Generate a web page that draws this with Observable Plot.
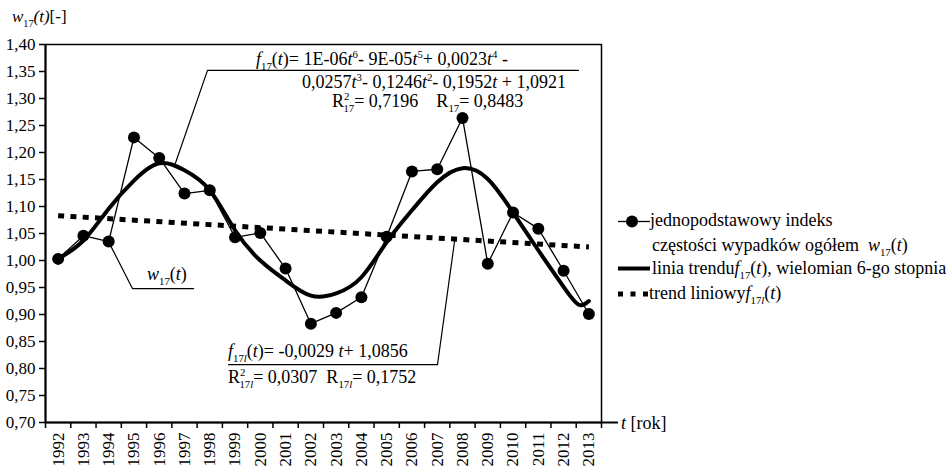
<!DOCTYPE html>
<html>
<head>
<meta charset="utf-8">
<script src="https://cdn.jsdelivr.net/npm/d3@7"></script>
<script src="https://cdn.jsdelivr.net/npm/@observablehq/plot@0.6"></script>
<style>
  html, body { margin: 0; padding: 0; background: #fff; }
  svg { display: block; }
</style>
</head>
<body>
<div id="chart"></div>
<script>
// ---- data ----
const years = [1992, 1993, 1994, 1995, 1996, 1997, 1998, 1999, 2000, 2001, 2002,
               2003, 2004, 2005, 2006, 2007, 2008, 2009, 2010, 2011, 2012, 2013];
const w17 = [1.003, 1.046, 1.035, 1.228, 1.190, 1.124, 1.130, 1.043, 1.051, 0.985, 0.883,
             0.903, 0.932, 1.044, 1.165, 1.169, 1.264, 0.994, 1.089, 1.059, 0.981, 0.901];
// polynomial (6th degree) trend line
const polyYears = [1992, 1993, 1994, 1995, 1996, 1997, 1998, 1999, 2000, 2001, 2002,
                   2003, 2004, 2005, 2006, 2007, 2008, 2009, 2010, 2011, 2012, 2012.6, 2013];
const polyValues = [1.003, 1.037, 1.096, 1.148, 1.180, 1.167, 1.130, 1.056, 1.000, 0.963, 0.935,
                    0.939, 0.969, 1.034, 1.093, 1.145, 1.171, 1.151, 1.089, 1.019, 0.951, 0.918, 0.925];
// linear trend endpoints
const linYears = [1992, 2013];
const linValues = [1.083, 1.025];
// y ticks
const yTicks = [0.70, 0.75, 0.80, 0.85, 0.90, 0.95, 1.00, 1.05, 1.10, 1.15, 1.20, 1.25, 1.30, 1.35, 1.40];
// leader lines of annotations (data coordinates)
const leadPolyX = [1996.64, 1997.91, 2012.59];
const leadPolyY = [1.180, 1.352, 1.352];
const leadWX = [1994.07, 1994.94, 1997.36];
const leadWY = [1.028, 0.948, 0.948];
const leadLinX = [2007.69, 2007.01, 1998.74];
const leadLinY = [1.037, 0.807, 0.807];

// ---- build tables ----
const pts = years.map((y, i) => ({year: y, v: w17[i]}));
const poly = polyYears.map((y, i) => ({year: y, v: polyValues[i]}));
const lin = linYears.map((y, i) => ({year: y, v: linValues[i]}));
const mk = (xs, ys) => xs.map((x, i) => ({x, y: ys[i]}));
const bounds = [years[0] - 0.5, ...years.map(y => y + 0.5)];
const comma = d => d3.format(".2f")(d).replace(".", ",");
const FONT = "'Liberation Serif', 'Times New Roman', 'DejaVu Serif', serif";

const plot = Plot.plot({
  width: 950,
  height: 466,
  marginLeft: 45,
  marginRight: 349,
  marginTop: 44,
  marginBottom: 44,
  x: {domain: [1991.5, 2013.5]},
  y: {domain: [0.70, 1.40]},
  style: {fontFamily: FONT, fontSize: "17px", color: "black", background: "white"},
  marks: [
    Plot.frame({stroke: "black", strokeWidth: 1.5}),
    Plot.axisY({ticks: yTicks, tickSize: 6, tickPadding: 4, tickFormat: comma, fontSize: 17, label: null, strokeWidth: 1.5}),
    Plot.axisX({ticks: bounds, tickSize: 6, tickFormat: () => "", label: null, strokeWidth: 1.5}),
    Plot.axisX({ticks: years, tickSize: 0, tickPadding: 10, tickRotate: -90, tickFormat: d => String(d), fontSize: 17, label: null}),
    Plot.ruleX([1991.5], {stroke: "black", strokeWidth: 2}),
    Plot.ruleY([0.70], {x1: 1991.5, x2: 2014.17, stroke: "black", strokeWidth: 2}),
    // leader lines
    Plot.line(mk(leadPolyX, leadPolyY), {x: "x", y: "y", stroke: "black", strokeWidth: 1.2}),
    Plot.line(mk(leadWX, leadWY), {x: "x", y: "y", stroke: "black", strokeWidth: 1.2}),
    Plot.line(mk(leadLinX, leadLinY), {x: "x", y: "y", stroke: "black", strokeWidth: 1.2}),
    // linear trend
    Plot.line(lin, {x: "year", y: "v", stroke: "black", strokeWidth: 5, strokeDasharray: "6,6.3", strokeLinecap: "butt"}),
    // polynomial trend
    Plot.line(poly, {x: "year", y: "v", curve: "natural", stroke: "black", strokeWidth: 4}),
    // index data
    Plot.line(pts, {x: "year", y: "v", stroke: "black", strokeWidth: 1.3}),
    Plot.dot(pts, {x: "year", y: "v", r: 6, fill: "black"})
  ]
});

const svg = d3.select(plot);

function rich(x, y, parts, size) {
  size = size || 18;
  const t = svg.append("text")
    .attr("x", x).attr("y", y)
    .style("font-size", size + "px")
    .style("font-family", FONT)
    .style("text-anchor", "start")
    .style("fill", "black")
    .style("white-space", "pre");
  let cur = 0;
  for (const p of parts) {
    const [s, kind, dx] = p;
    let target = 0;
    let fs = null;
    if (kind === "sub" || kind === "subi") { target = 0.28 * size; fs = 0.6 * size; }
    if (kind === "sup") { target = -0.4 * size; fs = 0.6 * size; }
    const ts = t.append("tspan").text(s);
    if (target - cur !== 0) ts.attr("dy", target - cur);
    if (fs) ts.style("font-size", fs + "px");
    if (kind === "i" || kind === "subi") ts.style("font-style", "italic");
    if (dx) ts.attr("dx", dx);
    cur = target;
  }
  return t;
}

// y-axis title
rich(12, 22, [["w", "i"], ["17", "sub"], ["(t)", "i"], ["[-]", ""]], 17);
// x-axis title
rich(621, 429, [["t", "i"], [" [rok]", ""]], 18);

// polynomial annotation
rich(256, 65, [["f", "i"], ["17", "sub"], ["(", ""], ["t", "i"], [")= 1E-06", ""], ["t", "i"], ["6", "sup"],
               ["- 9E-05", ""], ["t", "i"], ["5", "sup"], ["+ 0,0023", ""], ["t", "i"], ["4", "sup"], [" -", ""]]);
rich(302, 88, [["0,0257", ""], ["t", "i"], ["3", "sup"], ["- 0,1246", ""], ["t", "i"], ["2", "sup"],
               ["- 0,1952", ""], ["t", "i"], [" + 1,0921", ""]]);
rich(332, 107, [["R", ""], ["2", "sup"], ["17", "sub", -6], ["= 0,7196    R", ""], ["17", "sub"], ["= 0,8483", ""]]);

// w17 label
rich(147, 280, [["w", "i"], ["17", "sub"], ["(", ""], ["t", "i"], [")", ""]]);

// linear annotation
rich(228, 357, [["f", "i"], ["17", "sub"], ["l", "subi"], ["(", ""], ["t", "i"], [")= -0,0029 ", ""], ["t", "i"], ["+ 1,0856", ""]]);
rich(228, 383, [["R", ""], ["2", "sup"], ["17", "sub", -6], ["l", "subi"], ["= 0,0307  R", ""], ["17", "sub"], ["l", "subi"], ["= 0,1752", ""]]);

// legend
const lg = svg.append("g");
lg.append("line").attr("x1", 618).attr("x2", 650).attr("y1", 221.5).attr("y2", 221.5).attr("stroke", "black").attr("stroke-width", 1.3);
lg.append("circle").attr("cx", 632).attr("cy", 221.5).attr("r", 6).attr("fill", "black");
rich(650, 226, [["jednopodstawowy indeks", ""]], 18);
rich(652, 251, [["częstości wypadków ogółem  ", ""], ["w", "i"], ["17", "sub"], ["(", ""], ["t", "i"], [")", ""]], 18);
lg.append("line").attr("x1", 618).attr("x2", 650).attr("y1", 268.5).attr("y2", 268.5).attr("stroke", "black").attr("stroke-width", 4);
rich(652, 274, [["linia trendu", ""], ["f", "i"], ["17", "sub"], ["(", ""], ["t", "i"], ["), wielomian 6-go stopnia", ""]], 18);
lg.append("line").attr("x1", 618).attr("x2", 648).attr("y1", 294).attr("y2", 294).attr("stroke", "black").attr("stroke-width", 5).attr("stroke-dasharray", "5,7.5");
rich(649, 299, [["trend liniowy", ""], ["f", "i"], ["17", "sub"], ["l", "subi"], ["(", ""], ["t", "i"], [")", ""]], 18);

document.getElementById("chart").appendChild(plot);
</script>
</body>
</html>
